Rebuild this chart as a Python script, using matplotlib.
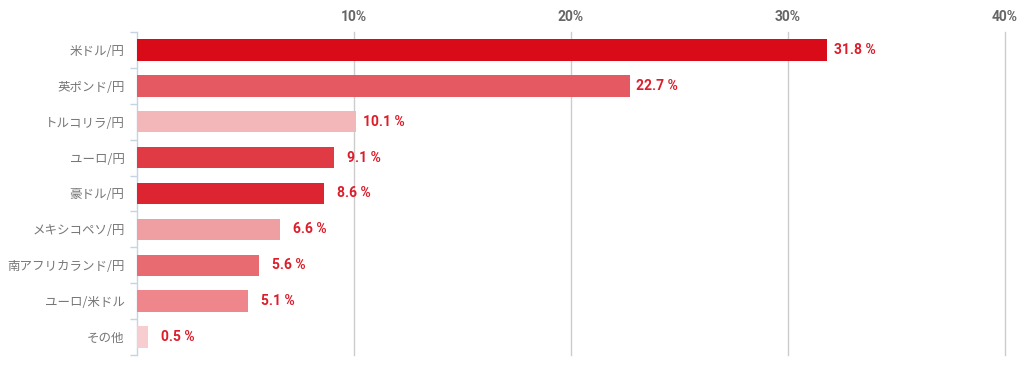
import matplotlib.pyplot as plt
from matplotlib.ticker import FixedLocator

plt.rcParams['font.family'] = ['Noto Sans CJK JP', 'DejaVu Sans']

# ── Data ──────────────────────────────────────────────────────────────────────
pairs = ["米ドル/円", "英ポンド/円", "トルコリラ/円", "ユーロ/円", "豪ドル/円",
         "メキシコペソ/円", "南アフリカランド/円", "ユーロ/米ドル", "その他"]
shares = [31.8, 22.7, 10.1, 9.1, 8.6, 6.6, 5.6, 5.1, 0.5]
bar_colors = ["#d90b19", "#e55a62", "#f3b6b9", "#e03a45", "#dd2532",
              "#ef9ea2", "#e96b72", "#ee868c", "#f7cdd0"]
ticks = [10, 20, 30, 40]

LABEL_C = "#dc1e2b"
GRID_C = "#cccccc"
AXIS_C = "#c5d3e3"

fig = plt.figure(figsize=(10.24, 3.71), dpi=100)
ax = fig.add_axes([0.1338, 0.043, 0.8476, 0.871])

y = list(range(len(pairs)))
ax.barh(y, shares, height=0.6, color=bar_colors, zorder=3)

for yi, v in zip(y, shares):
    off = 0.3 if v >= 10 else 0.6
    ax.text(v + off, yi, f"{v} %", va="center", ha="left", fontsize=10,
            fontweight="bold", color=LABEL_C, family=["Roboto", "DejaVu Sans"])

ax.set_xlim(0, 40)
ax.set_ylim(len(pairs) - 0.5, -0.5)

ax.xaxis.tick_top()
ax.xaxis.set_major_locator(FixedLocator(ticks))
ax.set_xticklabels([f"{t}%" for t in ticks], fontsize=10, fontweight="bold",
                   color="#666666", family=["Roboto", "DejaVu Sans"])
ax.tick_params(axis="x", length=0, pad=6)
ax.grid(axis="x", color=GRID_C, lw=1, zorder=0)
for gl in ax.get_xgridlines():
    gl.set_clip_on(False)

ax.set_yticks(y)
ax.set_yticklabels(pairs, fontsize=9, color="#777777")
ax.tick_params(axis="y", length=0, pad=9)
ax.yaxis.set_minor_locator(FixedLocator([i - 0.5 for i in range(len(pairs) + 1)]))
ax.tick_params(axis="y", which="minor", length=5, color=AXIS_C, width=1)

for s in ["top", "right", "bottom"]:
    ax.spines[s].set_visible(False)
ax.spines["left"].set_color(AXIS_C)
ax.spines["left"].set_linewidth(1)

fig.savefig("out.png", dpi=100)
